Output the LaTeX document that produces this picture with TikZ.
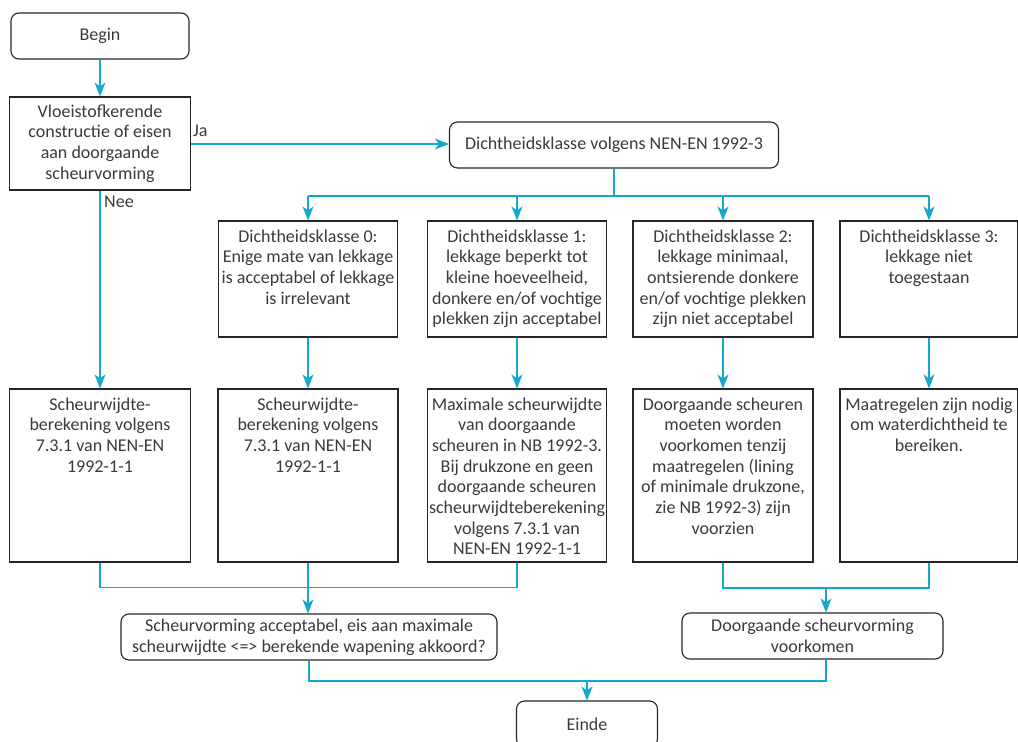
\documentclass[tikz,border=0pt]{standalone}
\usepackage{fontspec}
\setmainfont{Carlito}
\usetikzlibrary{arrows.meta}
\definecolor{flow}{RGB}{20,168,204}
\definecolor{txt}{HTML}{3A3A3A}
\definecolor{edge}{HTML}{262626}
\newcommand{\tbox}[3]{\parbox[c][#2][t]{#1}{\centering\vspace*{8.5pt}#3\par}}
\begin{document}
\begin{tikzpicture}[x=1pt,y=-1pt,
  font=\fontsize{18}{20.7}\selectfont, text=txt,
  box/.style={draw=edge, line width=1.1pt, inner sep=0pt},
  rbox/.style={box, rounded corners=8pt, align=center},
  cbox/.style={box, align=center},
  conn/.style={draw=flow, line width=1.5pt},
  arr/.style={conn, -{Stealth[length=14pt,width=11pt,inset=4pt]}}]
\useasboundingbox (0,0) rectangle (1018,742);

\node[rbox, minimum width=178pt, minimum height=46pt] (begin) at (100,36) {Begin};
\node[cbox, minimum width=181pt, minimum height=93pt] (vloei) at (100,143.5) {Vloeistofkerende\\constructie of eisen\\aan doorgaande\\scheurvorming};
\node[rbox, minimum width=329pt, minimum height=46pt] (nen) at (614,145) {Dichtheidsklasse volgens NEN-EN 1992-3};
\node[anchor=west, inner sep=0pt] (ja) at (193,131) {Ja};
\node[anchor=west, inner sep=0pt] (nee) at (104,202) {Nee};

\node[box] (k0) at (308,279) {\tbox{179pt}{116pt}{Dichtheidsklasse 0:\\Enige mate van lekkage\\is acceptabel of lekkage\\is irrelevant}};
\node[box] (k1) at (517,279) {\tbox{179pt}{116pt}{Dichtheidsklasse 1:\\lekkage beperkt tot\\kleine hoeveelheid,\\donkere en/of vochtige\\plekken zijn acceptabel}};
\node[box] (k2) at (723,279) {\tbox{180pt}{116pt}{Dichtheidsklasse 2:\\lekkage minimaal,\\ontsierende donkere\\en/of vochtige plekken\\zijn niet acceptabel}};
\node[box] (k3) at (929,279) {\tbox{178pt}{116pt}{Dichtheidsklasse 3:\\lekkage niet\\toegestaan}};

\node[box] (b0) at (100,475.5) {\tbox{181pt}{173pt}{Scheurwijdte-\\berekening volgens\\7.3.1 van NEN-EN\\1992-1-1}};
\node[box] (b1) at (308,475.5) {\tbox{180pt}{173pt}{Scheurwijdte-\\berekening volgens\\7.3.1 van NEN-EN\\1992-1-1}};
\node[box] (b2) at (517,475.5) {\tbox{179pt}{173pt}{Maximale scheurwijdte\\van doorgaande\\scheuren in NB 1992-3.\\Bij drukzone en geen\\doorgaande scheuren\\scheurwijdteberekening\\volgens 7.3.1 van\\NEN-EN 1992-1-1}};
\node[box] (b3) at (723,475.5) {\tbox{180pt}{173pt}{Doorgaande scheuren\\moeten worden\\voorkomen tenzij\\maatregelen (lining\\of minimale drukzone,\\zie NB 1992-3) zijn\\voorzien}};
\node[box] (b4) at (929,475.5) {\tbox{178pt}{173pt}{Maatregelen zijn nodig\\om waterdichtheid te\\bereiken.}};

\node[rbox, minimum width=376pt, minimum height=46pt] (m1) at (309,637) {Scheurvorming acceptabel, eis aan maximale\\scheurwijdte <=> berekende wapening akkoord?};
\node[rbox, minimum width=261pt, minimum height=46pt] (m2) at (812.5,636) {Doorgaande scheurvorming\\voorkomen};
\node[rbox, minimum width=141pt, minimum height=46pt] (einde) at (587,724) {Einde};

% connectors
\draw[arr] (begin.south) -- (begin.south |- vloei.north);
\draw[arr] (vloei.east |- 0,144) -- (nen.west |- 0,144);
\draw[arr] (vloei.south) -- (b0.north);

\coordinate (busL) at (308,196);
\coordinate (busR) at (929,196);
\draw[conn] (nen.south) -- (nen.south |- busL);
\draw[conn] (busL) -- (busR);
\foreach \k in {k0,k1,k2,k3} {
  \draw[arr] (\k.north |- busL) -- (\k.north);
}
\draw[arr] (k0.south) -- (b1.north);
\draw[arr] (k1.south) -- (b2.north);
\draw[arr] (k2.south) -- (b3.north);
\draw[arr] (k3.south) -- (b4.north);

\draw[conn] (b0.south) -- ++(0,25) -| (b2.south);
\draw[arr] (b1.south) -- (b1.south |- m1.north);

\coordinate (j2) at (826,588);
\draw[conn] (b3.south) |- (j2) -| (b4.south);
\draw[arr] (j2) -- (j2 |- m2.north);

\coordinate (j3) at (587,681);
\draw[conn] (m1.south) |- (j3);
\draw[conn] (j2 |- m2.south) |- (j3);
\draw[arr] (j3) -- (einde.north);
\end{tikzpicture}
\end{document}
